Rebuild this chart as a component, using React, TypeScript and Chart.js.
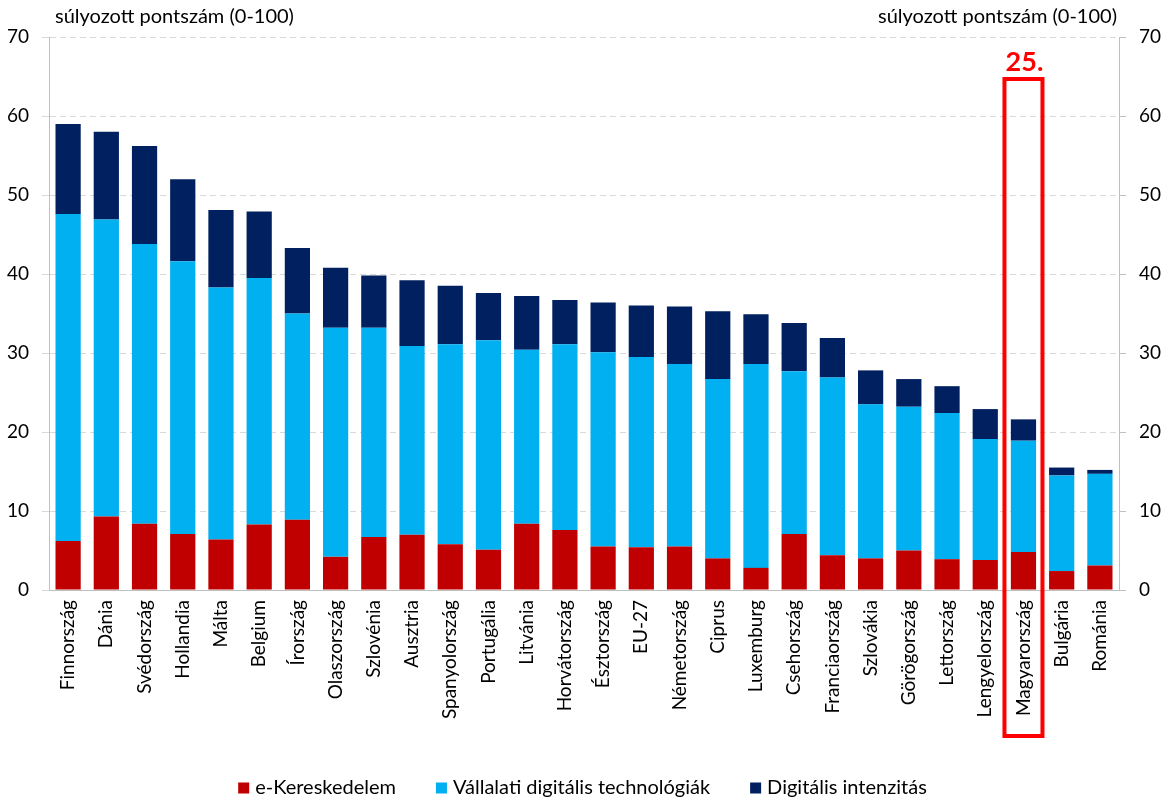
import React, { useEffect, useRef } from 'react';
import { Chart, registerables } from 'chart.js';

Chart.register(...registerables);

const categories = [
  'Finnország', 'Dánia', 'Svédország', 'Hollandia', 'Málta', 'Belgium', 'Írország',
  'Olaszország', 'Szlovénia', 'Ausztria', 'Spanyolország', 'Portugália', 'Litvánia',
  'Horvátország', 'Észtország', 'EU-27', 'Németország', 'Ciprus', 'Luxemburg',
  'Csehország', 'Franciaország', 'Szlovákia', 'Görögország', 'Lettország',
  'Lengyelország', 'Magyarország', 'Bulgária', 'Románia',
];

const eKereskedelem = [
  6.2, 9.3, 8.4, 7.1, 6.4, 8.3, 8.9, 4.2, 6.7, 7.0, 5.8, 5.1, 8.4, 7.6,
  5.5, 5.4, 5.5, 4.0, 2.8, 7.1, 4.4, 4.0, 5.0, 3.9, 3.8, 4.8, 2.4, 3.1,
];

const vallalatiTech = [
  41.4, 37.6, 35.4, 34.5, 31.9, 31.2, 26.1, 29.0, 26.5, 23.9, 25.3, 26.5, 22.0, 23.5,
  24.6, 24.1, 23.1, 22.7, 25.8, 20.6, 22.5, 19.5, 18.2, 18.5, 15.3, 14.1, 12.1, 11.6,
];

const digitalisIntenzitas = [
  11.4, 11.1, 12.4, 10.4, 9.8, 8.4, 8.3, 7.6, 6.6, 8.3, 7.4, 6.0, 6.8, 5.6,
  6.3, 6.5, 7.3, 8.6, 6.3, 6.1, 5.0, 4.3, 3.5, 3.4, 3.8, 2.7, 1.0, 0.5,
];

const seriesNames = ['e-Kereskedelem', 'Vállalati digitális technológiák', 'Digitális intenzitás'];
const seriesColors = ['#C00000', '#00B0F0', '#002060'];

const yTicks = [0, 10, 20, 30, 40, 50, 60, 70];
const axisTitle = 'súlyozott pontszám (0-100)';
const highlightCategory = 'Magyarország';
const highlightLabel = '25.';

const FONT = 'Lato, "Open Sans", sans-serif';

export default function App() {
  const canvasRef = useRef<HTMLCanvasElement | null>(null);

  useEffect(() => {
    document.body.style.margin = '0';
    const canvas = canvasRef.current;
    if (!canvas) return;

    const overlay = {
      id: 'overlay',
      afterDraw(chart: any) {
        const ctx = chart.ctx;
        ctx.save();
        // axis titles
        ctx.fillStyle = '#000';
        ctx.font = `20px ${FONT}`;
        ctx.textBaseline = 'middle';
        ctx.textAlign = 'left';
        ctx.fillText(axisTitle, 55, 17);
        ctx.textAlign = 'right';
        ctx.fillText(axisTitle, 1117, 17);

        // highlight box
        const xs = chart.scales.x;
        const idx = categories.indexOf(highlightCategory);
        const cx = xs.getPixelForValue(idx);
        ctx.strokeStyle = '#FF0000';
        ctx.lineWidth = 4;
        ctx.strokeRect(cx - 19, 79, 38, 657);
        ctx.fillStyle = '#FF0000';
        ctx.font = `bold 27px ${FONT}`;
        ctx.textAlign = 'center';
        ctx.textBaseline = 'middle';
        ctx.fillText(highlightLabel, cx + 1, 62);

        // legend
        ctx.font = `20px ${FONT}`;
        ctx.textAlign = 'left';
        const box = 11;
        const gapBoxText = 6;
        const gapItems = 40;
        const widths = seriesNames.map((n) => box + gapBoxText + ctx.measureText(n).width);
        const total = widths.reduce((a, b) => a + b, 0) + gapItems * (seriesNames.length - 1);
        let x = (chart.width - total) / 2;
        const ly = 788;
        seriesNames.forEach((n, i) => {
          ctx.fillStyle = seriesColors[i];
          ctx.fillRect(x, ly - box / 2, box, box);
          ctx.fillStyle = '#000';
          ctx.fillText(n, x + box + gapBoxText, ly);
          x += widths[i] + gapItems;
        });
        ctx.restore();
      },
    };

    const datasets = [eKereskedelem, vallalatiTech, digitalisIntenzitas].map((d, i) => ({
      label: seriesNames[i],
      data: d,
      backgroundColor: seriesColors[i],
      borderWidth: 0,
      barPercentage: 0.66,
      categoryPercentage: 1,
      stack: 's',
      yAxisID: 'y',
    }));

    const chart = new Chart(canvas, {
      type: 'bar',
      data: { labels: categories, datasets },
      plugins: [overlay],
      options: {
        animation: false,
        responsive: false,
        maintainAspectRatio: false,
        layout: { padding: { top: 37, bottom: 40, left: 0, right: 0 } },
        plugins: {
          legend: { display: false },
          tooltip: { enabled: false },
        },
        scales: {
          x: {
            stacked: true,
            grid: { display: false, drawTicks: false },
            border: { display: true, color: '#BFBFBF', width: 1 },
            ticks: {
              autoSkip: false,
              maxRotation: 90,
              minRotation: 90,
              padding: 10,
              color: '#000',
              font: { family: FONT, size: 19 },
            },
            afterFit(scale: any) {
              scale.height = 168;
            },
          },
          y: {
            stacked: true,
            position: 'left',
            min: 0,
            max: 70,
            afterBuildTicks(scale: any) {
              scale.ticks = yTicks.map((v) => ({ value: v }));
            },
            grid: {
              color: '#D9D9D9',
              lineWidth: 1,
              tickLength: 7,
              drawTicks: true,
            },
            border: { display: true, color: '#BFBFBF', width: 1, dash: [6, 4] } as any,
            ticks: {
              padding: 13,
              color: '#000',
              font: { family: FONT, size: 19 },
            },
            afterFit(scale: any) {
              scale.width = 49;
            },
          },
          y2: {
            position: 'right',
            min: 0,
            max: 70,
            afterBuildTicks(scale: any) {
              scale.ticks = yTicks.map((v) => ({ value: v }));
            },
            grid: { drawOnChartArea: false, color: '#BFBFBF', tickLength: 7 },
            border: { display: true, color: '#BFBFBF', width: 1 },
            ticks: {
              padding: 13,
              color: '#000',
              font: { family: FONT, size: 19 },
            },
            afterFit(scale: any) {
              scale.width = 46;
            },
          },
        },
      } as any,
    });

    // solid left axis line drawn separately from dashed grid
    const axisLine = {
      id: 'axisLine',
      afterDraw(c: any) {
        const ctx = c.ctx;
        const a = c.chartArea;
        ctx.save();
        ctx.strokeStyle = '#BFBFBF';
        ctx.lineWidth = 1;
        ctx.beginPath();
        ctx.moveTo(a.left + 0.5, a.top);
        ctx.lineTo(a.left + 0.5, a.bottom);
        ctx.stroke();
        ctx.restore();
      },
    };
    chart.config.plugins.push(axisLine as any);
    chart.update();

    return () => chart.destroy();
  }, []);

  return (
    <div style={{ width: 1165, height: 798 }}>
      <canvas ref={canvasRef} width={1165} height={798} style={{ display: 'block' }} />
    </div>
  );
}
